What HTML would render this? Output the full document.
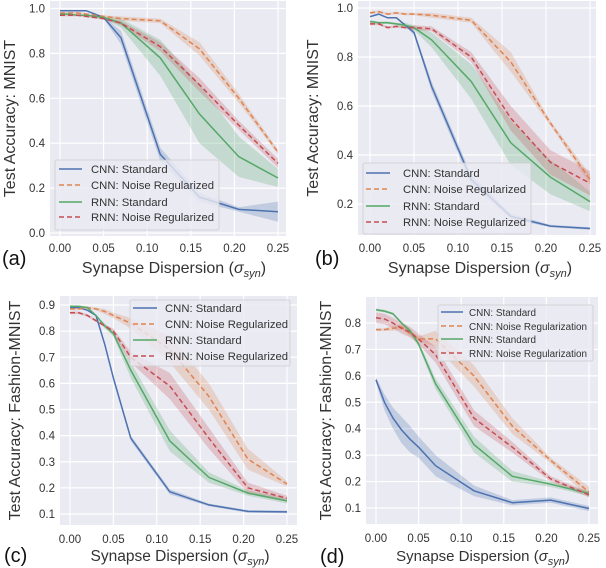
<!DOCTYPE html>
<html><head><meta charset="utf-8">
<style>
html,body{margin:0;padding:0;background:#fff;}
svg{display:block;font-family:"Liberation Sans","DejaVu Sans",sans-serif;}
</style></head>
<body>
<svg id="fig" width="606" height="568" viewBox="0 0 606 568" xmlns="http://www.w3.org/2000/svg"></svg>
<script>
// shared x values (synapse dispersion)
const xValues = [0, 0.01, 0.02, 0.03, 0.04, 0.05, 0.07, 0.115, 0.16, 0.205, 0.25];
const xTicks = [0, 0.05, 0.10, 0.15, 0.20, 0.25];
const xTickLabels = ["0.00", "0.05", "0.10", "0.15", "0.20", "0.25"];
const seriesNames = ["CNN: Standard", "CNN: Noise Regularized", "RNN: Standard", "RNN: Noise Regularized"];
const seriesNamesD = ["CNN: Standard", "CNN: Noise Regularization", "RNN: Standard", "RNN: Noise Regularization"];

// panel (a) MNIST
const aCnnStd = [.99,.99,.99,.99,.975,.96,.87,.35,.16,.105,.095];
const aCnnStdBand = [0,0,0,0,0,.005,.03,.03,.02,.01,.045];
const aCnnNoise = [.98,.98,.98,.975,.97,.965,.955,.945,.82,.6,.36];
const aCnnNoiseBand = [.005,.005,.005,.005,.005,.005,.01,.01,.03,.02,.01];
const aRnnStd = [.975,.975,.97,.97,.965,.96,.935,.78,.53,.34,.245];
const aRnnStdBand = [0,0,0,0,0,.005,.02,.08,.13,.09,.04];
const aRnnNoise = [.97,.97,.97,.965,.96,.955,.935,.83,.66,.48,.31];
const aRnnNoiseBand = [.005,.005,.005,.005,.005,.005,.01,.02,.03,.02,.02];
const aYTicks = [0, 0.2, 0.4, 0.6, 0.8, 1.0];
const aYTickLabels = ["0.0","0.2","0.4","0.6","0.8","1.0"];

// panel (b) MNIST
const bCnnStd = [.965,.975,.96,.96,.93,.9,.68,.3,.15,.11,.10];
const bCnnStdBand = [0,0,0,0,.005,.01,.02,.02,.01,.005,.005];
const bCnnNoise = [.98,.985,.975,.98,.975,.975,.97,.95,.78,.53,.3];
const bCnnNoiseBand = [.005,.005,.005,.005,.005,.005,.01,.01,.04,.01,.02];
const bRnnStd = [.945,.94,.94,.935,.93,.92,.87,.70,.45,.31,.21];
const bRnnStdBand = [.005,.005,.005,.005,.01,.01,.03,.07,.09,.07,.04];
const bRnnNoise = [.935,.935,.92,.925,.92,.92,.915,.80,.55,.37,.285];
const bRnnNoiseBand = [.005,.005,.005,.005,.005,.01,.01,.02,.05,.05,.05];
const bYTicks = [0.2, 0.4, 0.6, 0.8, 1.0];
const bYTickLabels = ["0.2","0.4","0.6","0.8","1.0"];

// panel (c) Fashion-MNIST
const cCnnStd = [.89,.89,.88,.86,.75,.62,.39,.185,.135,.11,.108];
const cCnnStdBand = [0,0,0,.005,.005,.01,.01,.01,.005,.005,.005];
const cCnnNoise = [.885,.885,.89,.885,.875,.86,.83,.73,.55,.31,.215];
const cCnnNoiseBand = [.005,.005,.005,.005,.01,.01,.02,.05,.05,.04,.01];
const cRnnStd = [.895,.895,.89,.86,.82,.79,.65,.38,.24,.18,.15];
const cRnnStdBand = [0,0,0,0,.01,.01,.03,.04,.02,.01,.01];
const cRnnNoise = [.87,.87,.86,.84,.82,.80,.70,.59,.39,.20,.16];
const cRnnNoiseBand = [.005,.005,.005,.005,.005,.01,.02,.05,.04,.02,.01];
const cYTicks = [0.1,0.2,0.3,0.4,0.5,0.6,0.7,0.8,0.9];
const cYTickLabels = ["0.1","0.2","0.3","0.4","0.5","0.6","0.7","0.8","0.9"];

// panel (d) Fashion-MNIST
const dCnnStd = [.585,.50,.44,.395,.36,.33,.26,.165,.12,.13,.098];
const dCnnStdBand = [.01,.03,.04,.05,.05,.04,.04,.02,.01,.01,.01];
const dCnnNoise = [.775,.775,.78,.785,.76,.74,.74,.60,.41,.28,.16];
const dCnnNoiseBand = [.005,.005,.01,.01,.01,.01,.03,.04,.03,.01,.02];
const dRnnStd = [.85,.845,.835,.80,.77,.72,.57,.34,.22,.19,.155];
const dRnnStdBand = [.005,.005,.005,.005,.01,.01,.02,.03,.02,.01,.01];
const dRnnNoise = [.82,.815,.80,.78,.765,.74,.68,.44,.33,.21,.15];
const dRnnNoiseBand = [.02,.02,.02,.02,.02,.02,.03,.03,.02,.01,.01];
const dYTicks = [0.1,0.2,0.3,0.4,0.5,0.6,0.7,0.8];
const dYTickLabels = ["0.1","0.2","0.3","0.4","0.5","0.6","0.7","0.8"];

const colors = ["#4c72b0", "#dd8452", "#55a868", "#c44e52"];
const dashes = [null, "5,3", null, "5,3"];
const NS = "http://www.w3.org/2000/svg";
const svg = document.getElementById("fig");

function mk(tag, attrs, parent) {
  const e = document.createElementNS(NS, tag);
  for (const k in attrs) e.setAttribute(k, attrs[k]);
  (parent || svg).appendChild(e);
  return e;
}

function panel(p) {
  const g = mk("g", {});
  
  
  const xs = v => p.xa + (v - 0) * (p.xb - p.xa) / 0.25;
  const ys = v => p.ya + (v - p.va) * (p.yb - p.ya) / (p.vb - p.va);
  const bg = mk("rect", {x: p.L, y: p.T, width: p.R - p.L, height: p.B - p.T, fill: "#eaeaf2"}, g);
  
  
  p.yTicks.forEach((t, i) => {
    const y = ys(t);
    const gl = mk("line", {x1: p.L, x2: p.R, y1: y, y2: y, stroke: "#fff", "stroke-width": 1.2}, g);
    
    
    const tl = mk("text", {x: p.L - 5, y: y + 4, "text-anchor": "end", "font-size": 11.5, fill: "#333"}, g);
    tl.textContent = p.yLabels[i];
    
    
  });
  xTicks.forEach((t, i) => {
    const x = xs(t);
    const gl = mk("line", {x1: x, x2: x, y1: p.T, y2: p.B, stroke: "#fff", "stroke-width": 1.2}, g);
    
    
    const tl = mk("text", {x: x, y: p.xtY, "text-anchor": "middle", "font-size": 11.5, fill: "#333"}, g);
    tl.textContent = xTickLabels[i];
    
    
  });
  p.series.forEach((s, k) => {
    const up = xValues.map((x, i) => xs(x).toFixed(1) + "," + ys(s.v[i] + s.b[i]).toFixed(1));
    const lo = xValues.map((x, i) => xs(x).toFixed(1) + "," + ys(s.v[i] - s.b[i]).toFixed(1)).reverse();
    const band = mk("polygon", {points: up.concat(lo).join(" "), fill: colors[k], "fill-opacity": 0.25, stroke: "none"}, g);
    
    
  });
  p.series.forEach((s, k) => {
    const pts = xValues.map((x, i) => xs(x).toFixed(1) + "," + ys(s.v[i]).toFixed(1)).join(" ");
    const a = {points: pts, fill: "none", stroke: colors[k], "stroke-width": 1.5};
    if (dashes[k]) a["stroke-dasharray"] = dashes[k];
    const ln = mk("polyline", a, g);
    
    
  });
  // legend
  const lg = mk("g", {}, g);
  
  
  const lb = mk("rect", {x: p.lg.x, y: p.lg.y, width: p.lg.w, height: p.lg.h, fill: "#eaeaf2", "fill-opacity": 0.8, stroke: "#ccc", "stroke-width": 0.8, rx: 2}, lg);
  
  
  p.names.forEach((n, k) => {
    const y = p.lg.rows[k];
    const a = {x1: p.lg.l1, x2: p.lg.l2, y1: y, y2: y, stroke: colors[k], "stroke-width": 1.5};
    if (dashes[k]) a["stroke-dasharray"] = dashes[k];
    const ls = mk("line", a, lg);
    
    
    const lt = mk("text", {x: p.lg.tx, y: y + 4, "font-size": p.lg.fs, fill: "#333"}, lg);
    lt.textContent = n;
    
    
  });
  // titles
  const yt = mk("text", {x: 0, y: 0, "text-anchor": "middle", "font-size": 16, fill: "#333",
    transform: "translate(" + p.ytX + "," + ((p.T + p.B) / 2) + ") rotate(-90)"}, g);
  yt.textContent = p.yTitle;
  
  
  const xt = mk("text", {x: p.xTitleX, y: p.xTitleY, "text-anchor": "middle", "font-size": p.xtFs, fill: "#333"}, g);
  xt.innerHTML = 'Synapse Dispersion (<tspan font-style="italic">σ</tspan><tspan font-style="italic" font-size="11" dy="4">syn</tspan><tspan dy="-4">)</tspan>';
  
  
  const pl = mk("text", {x: p.labX, y: p.labY, "font-size": 20, fill: "#111"}, g);
  pl.textContent = "(" + p.id + ")";
  
  
}

panel({id: "a", L: 50, R: 286, T: 1, B: 236, xa: 60, xb: 278, ya: 233, va: 0, yb: 8.5, vb: 1,
  yTicks: aYTicks, yLabels: aYTickLabels, xtY: 252, xTitleX: 174, xTitleY: 273, xtFs: 16, labX: 2, labY: 265, ytX: 15,
  yTitle: "Test Accuracy: MNIST", names: seriesNames,
  series: [{key:"cnn-standard", v:aCnnStd, b:aCnnStdBand},{key:"cnn-noise", v:aCnnNoise, b:aCnnNoiseBand},
           {key:"rnn-standard", v:aRnnStd, b:aRnnStdBand},{key:"rnn-noise", v:aRnnNoise, b:aRnnNoiseBand}],
  lg: {x: 55, y: 160, w: 164, h: 70, rows: [169,185,202,217], l1: 59, l2: 82, tx: 91, fs: 11.3}});

panel({id: "b", L: 358, R: 596, T: 1, B: 235, xa: 370, xb: 590, ya: 204, va: 0.2, yb: 8, vb: 1,
  yTicks: bYTicks, yLabels: bYTickLabels, xtY: 252, xTitleX: 480, xTitleY: 273, xtFs: 16, labX: 315, labY: 265, ytX: 318,
  yTitle: "Test Accuracy: MNIST", names: seriesNames,
  series: [{key:"cnn-standard", v:bCnnStd, b:bCnnStdBand},{key:"cnn-noise", v:bCnnNoise, b:bCnnNoiseBand},
           {key:"rnn-standard", v:bRnnStd, b:bRnnStdBand},{key:"rnn-noise", v:bRnnNoise, b:bRnnNoiseBand}],
  lg: {x: 363, y: 163, w: 168, h: 71, rows: [173,189,206,222], l1: 366, l2: 390, tx: 403, fs: 11.3}});

panel({id: "c", L: 60, R: 297, T: 296, B: 525, xa: 70, xb: 287, ya: 514, va: 0.1, yb: 305, vb: 0.9,
  yTicks: cYTicks, yLabels: cYTickLabels, xtY: 543, xTitleX: 180, xTitleY: 561, xtFs: 15.5, labX: 4, labY: 562, ytX: 20,
  yTitle: "Test Accuracy: Fashion-MNIST", names: seriesNames,
  series: [{key:"cnn-standard", v:cCnnStd, b:cCnnStdBand},{key:"cnn-noise", v:cCnnNoise, b:cCnnNoiseBand},
           {key:"rnn-standard", v:cRnnStd, b:cRnnStdBand},{key:"rnn-noise", v:cRnnNoise, b:cRnnNoiseBand}],
  lg: {x: 130, y: 300, w: 160, h: 66, rows: [308,324,340,356], l1: 133, l2: 157, tx: 165, fs: 11.3}});

panel({id: "d", L: 366, R: 598, T: 297, B: 524, xa: 376, xb: 589, ya: 508, va: 0.1, yb: 323, vb: 0.8,
  yTicks: dYTicks, yLabels: dYTickLabels, xtY: 542, xTitleX: 483, xTitleY: 561, xtFs: 15, labX: 320, labY: 563, ytX: 331,
  yTitle: "Test Accuracy: Fashion-MNIST", names: seriesNamesD,
  series: [{key:"cnn-standard", v:dCnnStd, b:dCnnStdBand},{key:"cnn-noise", v:dCnnNoise, b:dCnnNoiseBand},
           {key:"rnn-standard", v:dRnnStd, b:dRnnStdBand},{key:"rnn-noise", v:dRnnNoise, b:dRnnNoiseBand}],
  lg: {x: 438, y: 305, w: 155, h: 56, rows: [312,326,339,353], l1: 441, l2: 463, tx: 469, fs: 9.9}});
</script>
</body></html>
